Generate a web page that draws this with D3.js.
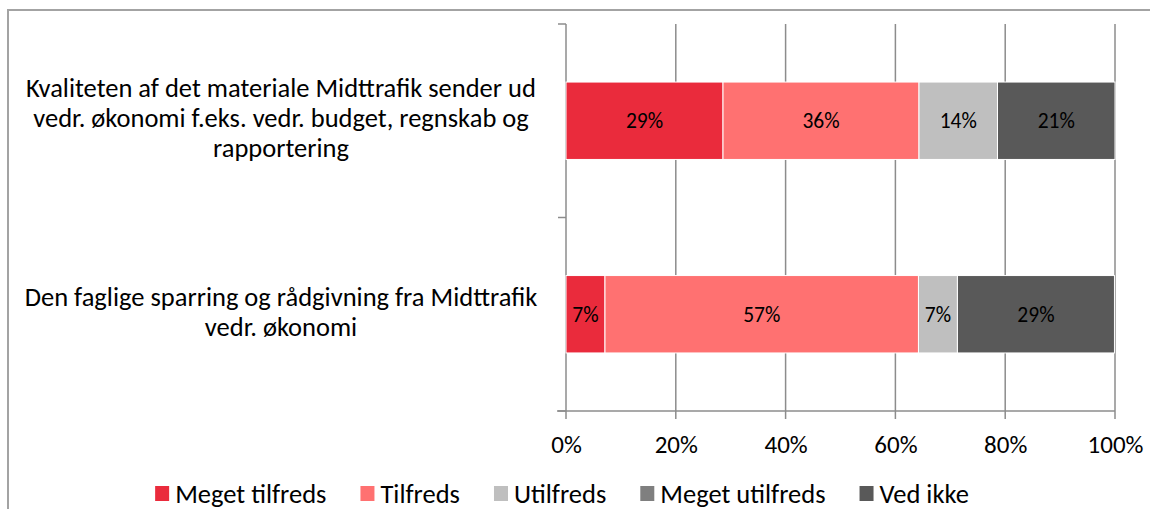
<!DOCTYPE html>
<html>
<head>
<meta charset="utf-8">
<script src="https://cdn.jsdelivr.net/npm/d3@7"></script>
<style>
  body { margin: 0; background: #fff; }
  text { font-family: Carlito, Calibri, Lato, sans-serif; fill: #000; }
</style>
</head>
<body>
<div id="chart"></div>
<script>
// data (n=14, shares in %)
var categoryLines = [
  ["Kvaliteten af det materiale Midttrafik sender ud", "vedr. økonomi f.eks. vedr. budget, regnskab og", "rapportering"],
  ["Den faglige sparring og rådgivning fra Midttrafik", "vedr. økonomi"]
];
var seriesNames = ["Meget tilfreds", "Tilfreds", "Utilfreds", "Meget utilfreds", "Ved ikke"];
var megetTilfreds = [28.6, 7.1];
var tilfreds = [35.7, 57.1];
var utilfreds = [14.3, 7.1];
var megetUtilfreds = [0, 0];
var vedIkke = [21.4, 28.6];
var tickValues = [0, 20, 40, 60, 80, 100];
var colors = ["#ea2b3c", "#ff7171", "#bfbfbf", "#7f7f7f", "#595959"];

var svgWidth = 1150;
var svgHeight = 509;

var margin = {
  top: 24,
  right: 35,
  bottom: 98,
  left: 566
};

var width = svgWidth - margin.left - margin.right;
var height = svgHeight - margin.top - margin.bottom;

var svg = d3.select("#chart")
  .append("svg")
  .attr("width", svgWidth)
  .attr("height", svgHeight);

// outer frame of the chart area (only top and left edge visible)
svg.append("path")
  .attr("d", `M8,${svgHeight} V10 H${svgWidth}`)
  .attr("fill", "none")
  .attr("stroke", "#a3a3a3")
  .attr("stroke-width", 2);

var chartGroup = svg.append("g")
  .attr("transform", `translate(${margin.left}, ${margin.top})`);

// build table for stacking
var allSeries = [megetTilfreds, tilfreds, utilfreds, megetUtilfreds, vedIkke];
var table = categoryLines.map(function(lines, i) {
  var row = { key: i };
  seriesNames.forEach(function(name, j) { row[name] = allSeries[j][i]; });
  return row;
});
var stacked = d3.stack().keys(seriesNames)(table);

var xScale = d3.scaleLinear()
  .domain([0, 100])
  .range([0, width]);

var yScale = d3.scaleBand()
  .domain(d3.range(categoryLines.length))
  .range([0, height])
  .paddingInner(0.6)
  .paddingOuter(0.3);

// vertical gridlines
chartGroup.selectAll(".grid")
  .data(tickValues)
  .enter()
  .append("line")
  .attr("x1", d => xScale(d))
  .attr("x2", d => xScale(d))
  .attr("y1", 0)
  .attr("y2", height + 8)
  .attr("stroke", "#8c8c8c")
  .attr("stroke-width", 1.5);

// bottom axis line
chartGroup.append("line")
  .attr("x1", -9)
  .attr("x2", width)
  .attr("y1", height)
  .attr("y2", height)
  .attr("stroke", "#8c8c8c")
  .attr("stroke-width", 1.5);

// category boundary ticks on the left axis
var boundaries = d3.range(categoryLines.length + 1).map(i => i * yScale.step());
chartGroup.selectAll(".ytick")
  .data(boundaries)
  .enter()
  .append("line")
  .attr("x1", -8)
  .attr("x2", 0)
  .attr("y1", d => d)
  .attr("y2", d => d)
  .attr("stroke", "#8c8c8c")
  .attr("stroke-width", 1.5);

// x tick labels
var bottomAxis = d3.axisBottom(xScale)
  .tickValues(tickValues)
  .tickSize(0)
  .tickFormat(d => d + "%");

var xAxis = chartGroup.append("g")
  .attr("transform", `translate(0, ${height})`)
  .call(bottomAxis);
xAxis.select(".domain").remove();
xAxis.selectAll("text")
  .attr("y", 42)
  .attr("dy", 0)
  .style("font-size", "25px")
  .style("font-family", "Carlito, Calibri, Lato, sans-serif")
  .attr("fill", "#000");

// stacked bars
var layers = chartGroup.selectAll(".layer")
  .data(stacked)
  .enter()
  .append("g")
  .attr("fill", (d, i) => colors[i]);

layers.selectAll("rect")
  .data(d => d)
  .enter()
  .append("rect")
  .attr("x", d => xScale(d[0]))
  .attr("y", (d, i) => yScale(i))
  .attr("width", d => xScale(d[1]) - xScale(d[0]))
  .attr("height", yScale.bandwidth())
  .attr("stroke", "#fff")
  .attr("stroke-width", 1);

// value labels
layers.selectAll("text")
  .data(d => d.filter(v => v[1] - v[0] > 0))
  .enter()
  .append("text")
  .attr("x", d => xScale((d[0] + d[1]) / 2))
  .attr("y", d => yScale(d.data.key) + yScale.bandwidth() / 2)
  .attr("dy", "0.35em")
  .attr("text-anchor", "middle")
  .style("font-size", "21.5px")
  .text(d => Math.round(d[1] - d[0]) + "%");

// category labels
var catGroup = svg.append("g");
categoryLines.forEach(function(lines, i) {
  var cy = margin.top + yScale(i) + yScale.bandwidth() / 2;
  catGroup.append("text")
    .attr("text-anchor", "middle")
    .style("font-size", "26.5px")
    .selectAll("tspan")
    .data(lines)
    .enter()
    .append("tspan")
    .attr("x", 281)
    .attr("y", (d, j) => cy + (j - (lines.length - 1) / 2) * 30)
    .attr("dy", "0.25em")
    .text(d => d);
});

// legend, centred under the chart
var legend = svg.append("g");
var items = legend.selectAll("g")
  .data(seriesNames)
  .enter()
  .append("g");

items.append("rect")
  .attr("width", 14)
  .attr("height", 15)
  .attr("y", -8)
  .attr("fill", (d, i) => colors[i]);

items.append("text")
  .attr("x", 20)
  .attr("dy", "0.35em")
  .style("font-size", "26.5px")
  .text(d => d);

var pos = 0;
items.each(function() {
  var w = this.getBBox().width;
  d3.select(this).attr("transform", `translate(${pos}, 0)`);
  pos += w + 34;
});
var legendWidth = pos - 34;
legend.attr("transform", `translate(${562 - legendWidth / 2}, 494)`);
</script>
</body>
</html>
